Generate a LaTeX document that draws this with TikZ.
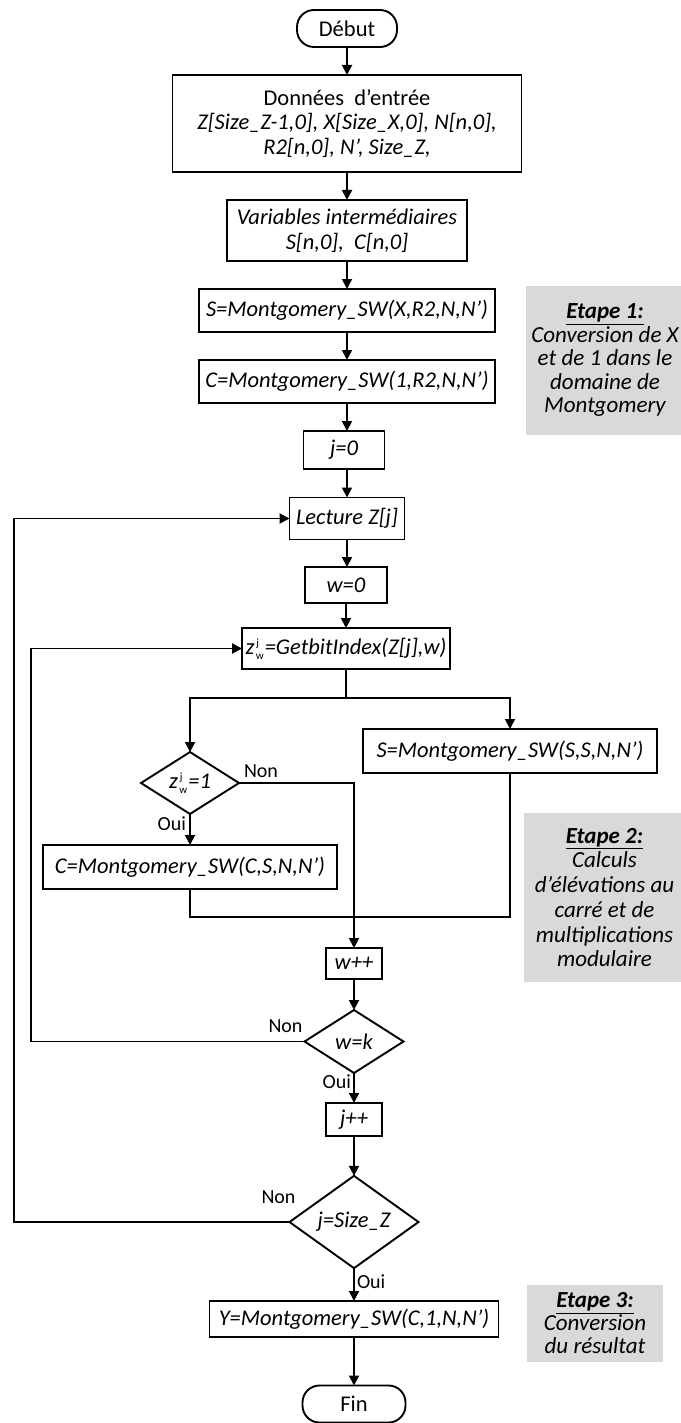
\documentclass[tikz,border=0pt]{standalone}
\usepackage{fontspec}
\setmainfont{Carlito}
\usetikzlibrary{shapes.geometric,arrows.meta}
\definecolor{stepgray}{RGB}{217,217,217}
% z_w^j symbol set in text: j stacked above w
\newcommand\zwjsym{z\kern1.5pt\raisebox{-0.45ex}{\vbox{\fontsize{11}{12.5}\selectfont\upshape\hbox{\kern0.5pt j}\hbox{w}}}\kern1pt}
\begin{document}
\begin{tikzpicture}[x=1pt,y=-1pt,
  every node/.style={font=\fontsize{22.5}{24.5}\selectfont, inner sep=0pt, outer sep=0pt},
  procbox/.style={draw, line width=1.9pt, rectangle, align=center, font=\fontsize{22.5}{24.5}\selectfont\itshape},
  termbox/.style={draw, line width=1.9pt, rectangle, rounded corners=17pt, minimum width=100pt, minimum height=37pt},
  decbox/.style={draw, line width=1.9pt, diamond, font=\fontsize{22.5}{24.5}\selectfont\itshape},
  stepnote/.style={fill=stepgray, align=center, font=\fontsize{23}{23.5}\selectfont\itshape},
  flowline/.style={line width=1.9pt},
  flowarrow/.style={line width=1.9pt, -{Triangle[length=10pt,width=10pt]}},
  answer/.style={font=\fontsize{20}{20}\selectfont}
]
\useasboundingbox (0,0) rectangle (680,1423);

% start and input blocks
\node[termbox] (debut) at (347,28.5) {Début};
\node[procbox, minimum width=349pt, minimum height=97pt] (donnees) at (347,123.5)
  {\upshape Données\ \ d’entrée\\Z[Size\_Z-1,0], X[Size\_X,0], N[n,0],\\R2[n,0], N’, Size\_Z,};
\node[procbox, minimum width=240pt, minimum height=61pt] (vars) at (347,230.5)
  {Variables intermédiaires\\S[n,0],\ \ C[n,0]};
\node[procbox, minimum width=296pt, minimum height=43pt] (sconv) at (347,310.5) {S=Montgomery\_SW(X,R2,N,N’)};
\node[procbox, minimum width=296pt, minimum height=43pt] (cconv) at (347,381.5) {C=Montgomery\_SW(1,R2,N,N’)};
\node[procbox, minimum width=81pt, minimum height=38pt] (jinit) at (344,450) {j=0};
\node[procbox, minimum width=115pt, minimum height=42pt] (lecture) at (347,518.5) {Lecture Z[j]};
\node[procbox, minimum width=82pt, minimum height=36pt] (winit) at (346,585) {w=0};
\node[procbox, minimum width=208pt, minimum height=41pt] (getbit) at (346,648.5) {\zwjsym=GetbitIndex(Z[j],w)};

% inner loop body
\node[procbox, minimum width=294pt, minimum height=44pt] (ssq) at (510,751) {S=Montgomery\_SW(S,S,N,N’)};
\node[decbox, minimum width=98pt, minimum height=61pt] (dz) at (190,783) {\zwjsym=1};
\node[procbox, minimum width=294pt, minimum height=44pt] (cmul) at (190,867) {C=Montgomery\_SW(C,S,N,N’)};
\node[procbox, minimum width=56pt, minimum height=31pt] (winc) at (354,963.5) {w++};
\node[decbox, minimum width=99pt, minimum height=63pt] (dk) at (354,1041.5) {w=k};
\node[procbox, minimum width=56pt, minimum height=33pt] (jinc) at (354,1119.5) {j++};
\node[decbox, minimum width=129pt, minimum height=82pt] (dj) at (354,1222) {j=Size\_Z};
\node[procbox, minimum width=289pt, minimum height=36pt] (yconv) at (354,1319) {Y=Montgomery\_SW(C,1,N,N’)};
\node[termbox, minimum width=103pt] (fin) at (354,1404) {Fin};

% step notes
\node[stepnote, minimum width=158pt, minimum height=149pt] (etape1) at (605,360.5)
  {\underline{\textbf{Etape 1:}}\\Conversion de X\\et de 1 dans le\\domaine de\\Montgomery};
\node[stepnote, minimum width=161pt, minimum height=169pt, font=\fontsize{23}{24.7}\selectfont\itshape] (etape2) at (604.5,897.5)
  {\underline{\textbf{Etape 2:}}\\Calculs\\d’élévations au\\carré et de\\multiplications\\modulaire};
\node[stepnote, minimum width=136pt, minimum height=77pt, font=\fontsize{23}{23}\selectfont\itshape] (etape3) at (595,1323.5)
  {\underline{\textbf{Etape 3:}}\\Conversion\\du résultat};

% split and merge points
\coordinate (split) at (346,698);
\coordinate (splitL) at (190,698);
\coordinate (splitR) at (510,698);
\coordinate (nonz) at (354,783);
\coordinate (mergeL) at (190,917);
\coordinate (mergeR) at (510,917);
\coordinate (loopw1) at (31,1041.5);
\coordinate (loopw2) at (31,648.5);
\coordinate (loopj1) at (14,1222);
\coordinate (loopj2) at (14,518.5);

% main flow
\draw[flowarrow] (debut) -- (donnees);
\draw[flowarrow] (donnees) -- (vars);
\draw[flowarrow] (vars) -- (sconv);
\draw[flowarrow] (sconv) -- (cconv);
\draw[flowarrow] (cconv.south) -- (jinit.north -| cconv.south);
\draw[flowarrow] (jinit.south -| lecture.north) -- (lecture);
\draw[flowarrow] (lecture.south) -- (winit.north -| lecture.south);
\draw[flowarrow] (winit) -- (getbit);
\draw[flowline] (getbit.south) -- (split);
\draw[flowarrow] (split) -- (splitL) -- (dz.north);
\draw[flowarrow] (split) -- (splitR) -- (ssq.north);
\draw[flowarrow] (dz.south) -- node[answer, anchor=east, xshift=-4pt, pos=0.3] {Oui} (cmul.north);
\draw[flowarrow] (dz.east) -- (nonz) -- (winc.north);
\node[answer, anchor=south west, xshift=5pt, yshift=5pt] (nonzlbl) at (dz.east) {Non};
\draw[flowline] (cmul.south) -- (mergeL) -- (mergeR) -- (ssq.south);
\draw[flowarrow] (winc) -- (dk);
\draw[flowarrow] (dk.west) -- (loopw1) -- (loopw2) -- (getbit.west);
\node[answer, anchor=south east, xshift=-2pt, yshift=9pt] (nonklbl) at (dk.west) {Non};
\draw[flowarrow] (dk.south) -- node[answer, anchor=east, xshift=-3pt, pos=0.3] {Oui} (jinc.north);
\draw[flowarrow] (jinc) -- (dj);
\draw[flowarrow] (dj.west) -- (loopj1) -- (loopj2) -- (lecture.west);
\node[answer, anchor=south east, xshift=6pt, yshift=18pt] (nonjlbl) at (dj.west) {Non};
\draw[flowarrow] (dj.south) -- node[answer, anchor=west, xshift=3pt, pos=0.4] {Oui} (yconv.north);
\draw[flowarrow] (yconv) -- (fin);
\end{tikzpicture}
\end{document}
